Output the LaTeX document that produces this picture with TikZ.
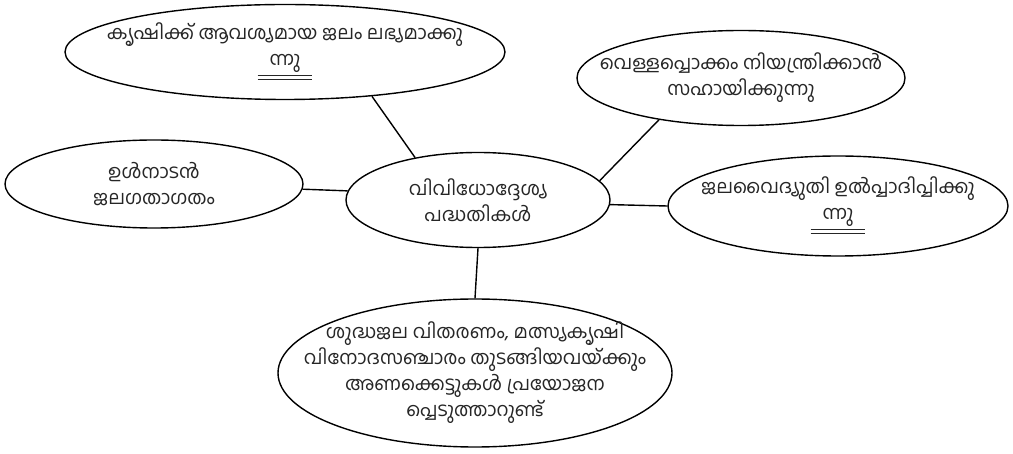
\documentclass[tikz,border=0pt]{standalone}
\usepackage{fontspec}
\usepackage{tikz}
\usetikzlibrary{shapes.geometric}
\newfontfamily\mlfont[Script=Malayalam]{Hind Kochi}
\tikzset{
  bubble/.style={ellipse,draw=black,line width=0.7pt,fill=white,inner xsep=-20pt,inner ysep=-2pt,
    align=center,font=\mlfont\fontsize{9.5}{13}\selectfont,text=black!85},
  link/.style={draw=black,line width=0.7pt},
}
\newcommand{\dul}[1]{\underline{\underline{\hbox{\kern6pt#1\kern6pt}}}}

\begin{document}
\begin{tikzpicture}[x=0.5pt,y=-0.5pt]
  \useasboundingbox (0,0) rectangle (1013,454);
  \node[bubble,minimum width=132pt,minimum height=47.5pt] (hub) at (478,200) {വിവിധോദ്ദേശ്യ\\പദ്ധതികൾ};
  \node[bubble,minimum width=220pt,minimum height=47.5pt] (irrig) at (285,52) {കൃഷിക്ക് ആവശ്യമായ ജലം ലഭ്യമാക്കു\\\dul{ന്നു}};
  \node[bubble,minimum width=164pt,minimum height=47.5pt] (flood) at (741,78) {വെള്ളപ്പൊക്കം നിയന്ത്രിക്കാൻ\\സഹായിക്കുന്നു};
  \node[bubble,minimum width=149pt,minimum height=44pt] (trans) at (154,184) {ഉൾനാടൻ\\ജലഗതാഗതം};
  \node[bubble,minimum width=170pt,minimum height=50pt] (power) at (838,206) {ജലവൈദ്യുതി ഉൽപ്പാദിപ്പിക്കു\\\dul{ന്നു}};
  \node[bubble,minimum width=197pt,minimum height=74pt] (other) at (475,373) {ശുദ്ധജല വിതരണം, മത്സ്യകൃഷി\\വിനോദസഞ്ചാരം തുടങ്ങിയവയ്ക്കും\\അണക്കെട്ടുകൾ പ്രയോജന\\പ്പെടുത്താറുണ്ട്};
  \draw[link] (hub.146) -- (irrig.-27);
  \draw[link] (hub.9) -- (flood.-153);
  \draw[link] (hub.176) -- (trans.-2);
  \draw[link] (hub.-2) -- (power.180);
  \draw[link] (hub.south) -- (other.north);
\end{tikzpicture}
\end{document}
